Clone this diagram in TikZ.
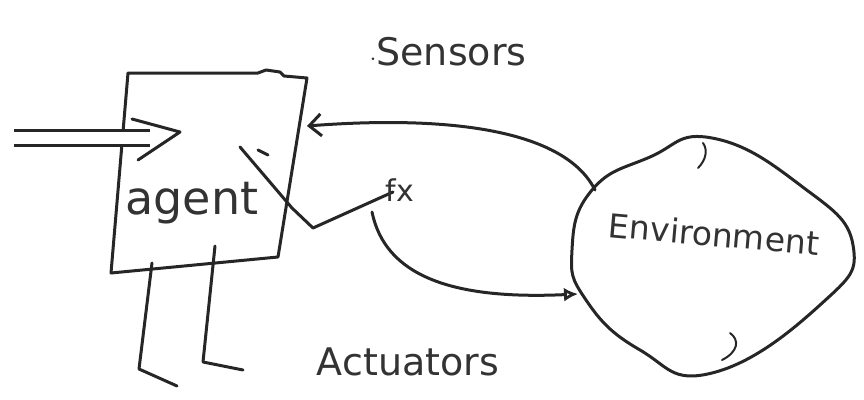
\documentclass[tikz,border=0pt]{standalone}
\usepackage{fontspec}
\setmainfont{DejaVu Sans}
\usetikzlibrary{arrows.meta}
\tikzset{
  ink/.style={line width=3pt, line cap=round, line join=round, draw=black!85},
  lbl/.style={font=\fontsize{#1}{#1}\selectfont, text=black!80, inner sep=0pt},
}
\begin{document}
\begin{tikzpicture}[x=1pt,y=-1pt]
\useasboundingbox (0,0) rectangle (864,399);
% agent box
\coordinate (tl) at (128,73);
\coordinate (tr) at (307,78);
\coordinate (br) at (278,257);
\coordinate (bl) at (111,273);
\draw[ink] (tl) -- (258,73) -- (266,70) -- (280,72) -- (284,76) -- (tr) -- (br) -- (bl) -- cycle;
\node[lbl=46] (agent) at (192,203) {agent};
% environment blob
\node[lbl=33, rotate=-5] (env) at (714,234) {Environment};
\draw[ink] plot[smooth cycle, tension=0.8] coordinates {(712,138) (800,185) (853,245) (820,305) (712,373) (640,350) (586,300) (572,250) (592,190) (650,157)};
\draw[ink, line width=2pt] (703,143) .. controls (708,150) and (706,160) .. (698,168);
\draw[ink, line width=2pt] (730,333) .. controls (740,340) and (738,352) .. (722,360);
% input arrow
\coordinate (in) at (14,138);
\coordinate (inend) at (150,138);
\coordinate (hu) at (132,119);
\coordinate (ht) at (180,132);
\coordinate (hd) at (138,160);
\draw[line width=3pt, draw=black!85, double, double distance=12pt] (in) -- (inend);
\draw[ink] (hu) -- (ht) -- (hd);
% sensors
\coordinate (senstart) at (595,190);
\coordinate (senend) at (307,126);
\draw[ink, -{Straight Barb[length=12pt,width=22pt]}] (senstart) .. controls (565,130) and (450,115) .. (senend);
\node[lbl=38] (sens) at (448,52) {$\cdot$Sensors};
% actuator function line
\coordinate (a1) at (240,147);
\coordinate (a2) at (292,208);
\coordinate (a3) at (313,228);
\coordinate (a4) at (393,192);
\draw[ink] (a1) -- (a2) -- (a3) -- (a4);
\draw[ink] (258,150) -- (268,155);
\node[lbl=30] (fx) at (400,190) {fx};
\coordinate (c1) at (372,212);
\coordinate (c2) at (578,294);
\draw[ink, -{Latex[open,length=14pt,width=14pt]}] (c1) .. controls (385,275) and (450,300) .. (c2);
% actuators
\coordinate (l1a) at (152,263);
\coordinate (l1b) at (139,369);
\coordinate (l1c) at (177,386);
\coordinate (l2a) at (215,246);
\coordinate (l2b) at (203,362);
\coordinate (l2c) at (243,370);
\draw[ink] (l1a) -- (l1b) -- (l1c);
\draw[ink] (l2a) -- (l2b) -- (l2c);
\node[lbl=38] (act) at (408,362) {Actuators};
\end{tikzpicture}
\end{document}
